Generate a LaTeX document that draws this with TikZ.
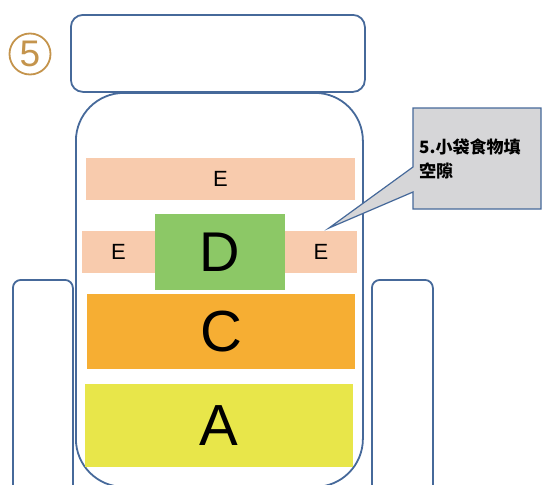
\documentclass[tikz,border=0pt]{standalone}
\usepackage{fontspec}
\setmainfont{Liberation Sans}
\newfontfamily\cjk{Noto Sans CJK TC}
\definecolor{jarblue}{HTML}{46699A}
\definecolor{epeach}{HTML}{F8CBAD}
\definecolor{dgreen}{HTML}{8CC866}
\definecolor{corange}{HTML}{F6AE33}
\definecolor{ayellow}{HTML}{E8E64A}
\definecolor{callgray}{HTML}{D6D6D8}
\definecolor{numgold}{HTML}{C4944C}
\begin{document}
\begin{tikzpicture}[x=1pt,y=-1pt,
  outline/.style={draw=jarblue,line width=1.8pt,fill=white},
  block/.style={rectangle,inner sep=0pt,draw=none,text=black},
  callout/.style={draw=jarblue,line width=1.2pt,fill=callgray}]
\useasboundingbox (0,0) rectangle (542,485);
% handles
\node[outline,rectangle,rounded corners=8pt,minimum width=60pt,minimum height=220pt,anchor=north west] (hl) at (12,279) {};
\node[outline,rectangle,rounded corners=8pt,minimum width=61pt,minimum height=220pt,anchor=north west] (hr) at (371,279) {};
% jar body
\node[outline,rectangle,rounded corners=48pt,minimum width=287pt,minimum height=394pt,anchor=north west] (jar) at (75,92) {};
% lid
\node[outline,rectangle,rounded corners=12pt,minimum width=294pt,minimum height=77pt,anchor=north west] (lid) at (70,14) {};
% number
\node[circle,draw=numgold,line width=1.8pt,minimum size=41pt,inner sep=0pt,text=numgold,font=\fontsize{37}{37}\selectfont] (num) at (30,54) {5};
% blocks
\node[block,fill=epeach,minimum width=269pt,minimum height=42pt,font=\fontsize{22}{22}\selectfont] (etop) at (220.5,179) {E};
\node[block,fill=epeach,minimum width=74pt,minimum height=42pt,font=\fontsize{22}{22}\selectfont] (eleft) at (118.5,252) {E};
\node[block,fill=epeach,minimum width=72pt,minimum height=42pt,font=\fontsize{22}{22}\selectfont] (eright) at (321,252) {E};
\node[block,fill=dgreen,minimum width=130pt,minimum height=76pt,font=\fontsize{56}{56}\selectfont] (d) at (220,252) {D};
\node[block,fill=corange,minimum width=268pt,minimum height=75pt,font=\fontsize{58}{58}\selectfont] (c) at (221,331.5) {C};
\node[block,fill=ayellow,minimum width=268pt,minimum height=83pt,font=\fontsize{58}{58}\selectfont] (a) at (219,425.5) {A};
% callout
\coordinate (tip) at (329,228);
\draw[callout] (413,108) -- (541,108) -- (541,209) -- (413,209) -- (413,192) -- (tip) -- (413,167) -- cycle;
\node[anchor=west,align=left,inner sep=0pt,font=\cjk\bfseries\fontsize{17}{24}\selectfont] (note) at (419,159) {5.小袋食物填\\空隙};
\end{tikzpicture}
\end{document}
